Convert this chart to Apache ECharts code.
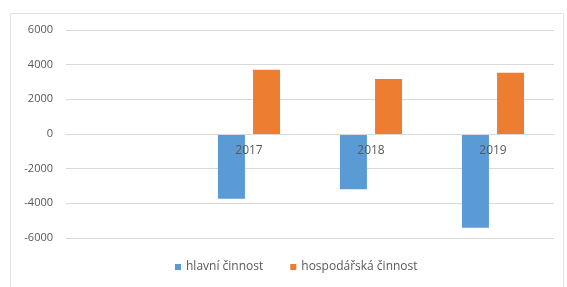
<!DOCTYPE html>
<html><head><meta charset="utf-8">
<script src="https://cdn.jsdelivr.net/npm/echarts@6/dist/echarts.min.js"></script>
<style>html,body{margin:0;padding:0;background:#fff}#c{width:567px;height:287px}</style>
</head><body><div id="c"></div>
<script>
const categories = ['', '2017', '2018', '2019'];
const hlavni = [null, -3740, -3190, -5410];
const hospodarska = [null, 3700, 3180, 3530];
const seriesNames = ['hlavní činnost', 'hospodářská činnost'];
const yTicks = { min: -6000, max: 6000, interval: 2000 };

const chart = echarts.init(document.getElementById('c'), null, { renderer: 'canvas' });
chart.setOption({
  animation: false,
  textStyle: { fontFamily: 'Open Sans, Liberation Sans, sans-serif' },
  graphic: [{
    type: 'rect', shape: { x: 10.5, y: 13.5, width: 553, height: 280 },
    style: { fill: 'none', stroke: '#e3e3e3', lineWidth: 1 }, silent: true
  }],
  grid: { left: 66, right: 13, top: 30, bottom: 49, containLabel: false },
  legend: {
    bottom: 9, left: 170, itemWidth: 6, itemHeight: 6, itemGap: 27,
    icon: 'rect',
    textStyle: { color: '#595959', fontSize: 12 },
    data: seriesNames
  },
  xAxis: {
    type: 'category', data: categories,
    offset: -104, z: 5,
    axisLine: { onZero: false, lineStyle: { color: '#d9d9d9' } },
    axisTick: { show: false },
    axisLabel: { color: '#595959', fontSize: 12, margin: 11 }
  },
  yAxis: {
    type: 'value', min: yTicks.min, max: yTicks.max, interval: yTicks.interval,
    axisLine: { show: false }, axisTick: { show: false },
    axisLabel: { color: '#595959', fontSize: 11, margin: 13, formatter: v => String(v) },
    splitLine: { lineStyle: { color: '#d9d9d9' } }
  },
  series: [
    { name: seriesNames[0], type: 'bar', data: hlavni, barWidth: 27, barGap: '30%', itemStyle: { color: '#5b9bd5' } },
    { name: seriesNames[1], type: 'bar', data: hospodarska, barWidth: 27, barGap: '30%', itemStyle: { color: '#ed7d31' } }
  ]
});
</script></body></html>
